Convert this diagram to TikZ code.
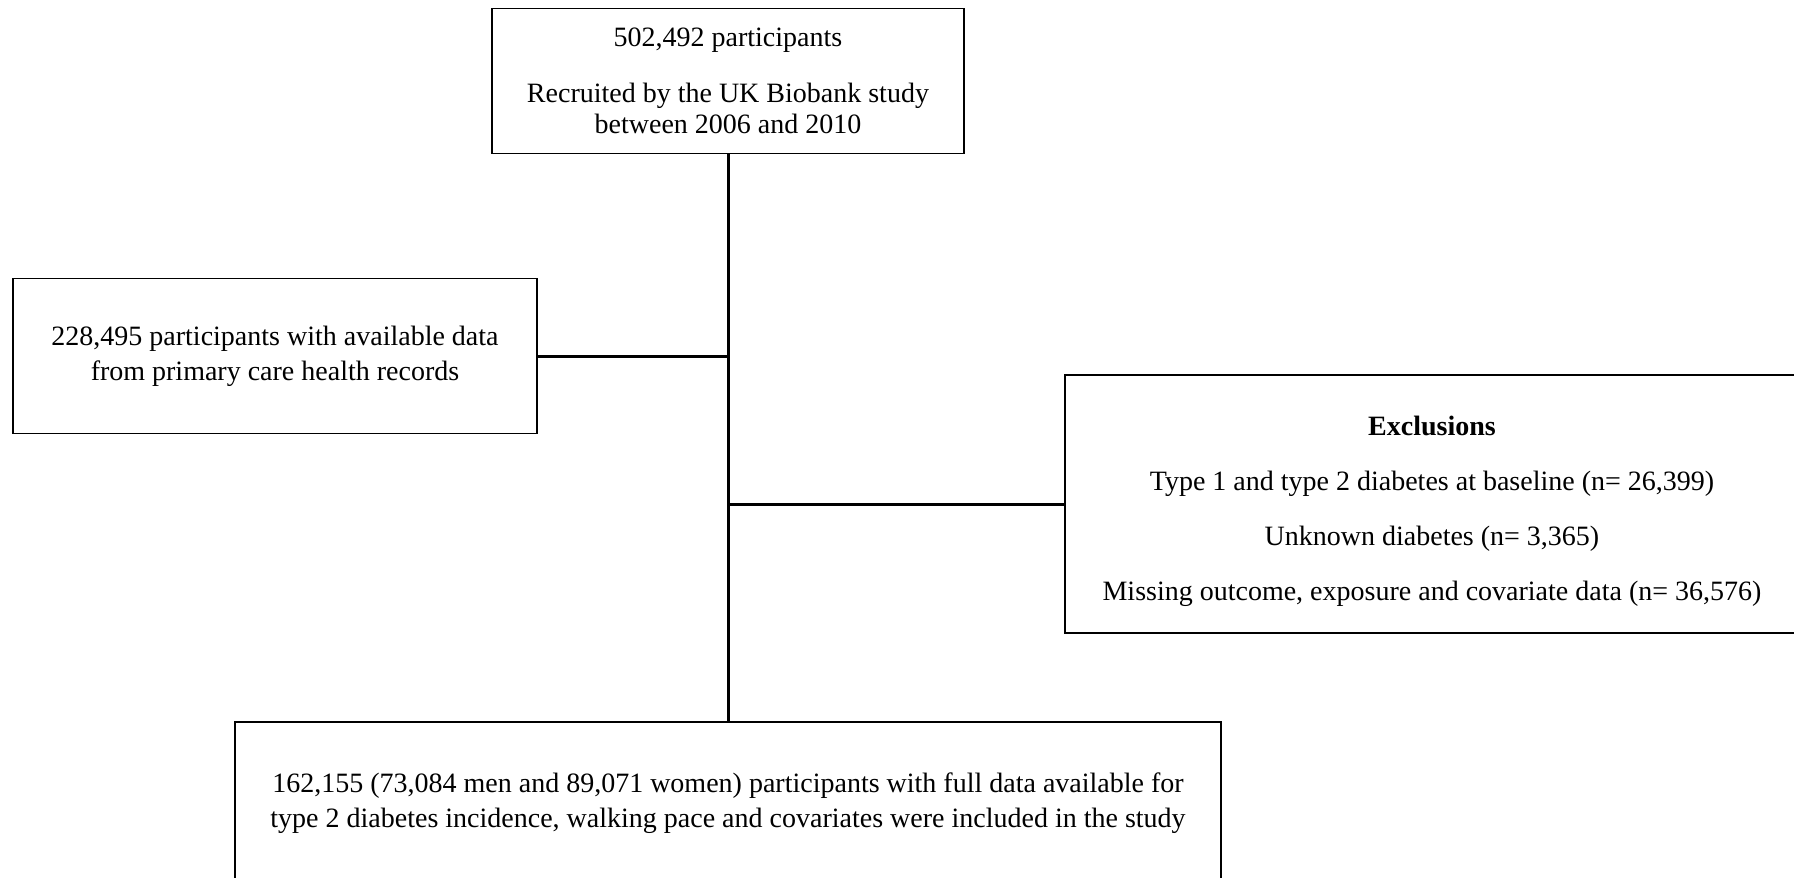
\documentclass[tikz,border=0pt]{standalone}
\usepackage{fontspec}
\setmainfont{Liberation Serif}
\begin{document}
\begin{tikzpicture}[x=1pt,y=-1pt,
  box/.style={draw=black,line width=1.5pt,fill=white,inner sep=0pt,align=center,
    font=\fontsize{28}{31}\selectfont},
  conn/.style={draw=black,line width=3pt}]
\useasboundingbox (0,0) rectangle (1794,878);
\node[box,minimum width=472pt,minimum height=145pt] (top) at (728,81)
  {502,492 participants\\[25pt]Recruited by the UK Biobank study\\between 2006 and 2010};
\node[box,minimum width=524pt,minimum height=155pt] (left) at (275,356)
  {228,495 participants with available data\\[4pt]from primary care health records};
\node[box,minimum width=734pt,minimum height=258pt] (right) at (1432,504)
  {\rule{0pt}{10pt}\\[-6pt]\textbf{Exclusions}\\[24pt]Type 1 and type 2 diabetes at baseline (n= 26,399)\\[24pt]Unknown diabetes (n= 3,365)\\[24pt]Missing outcome, exposure and covariate data (n= 36,576)};
\node[box,minimum width=986pt,minimum height=162pt] (bottom) at (728,803)
  {162,155 (73,084 men and 89,071 women) participants with full data available for\\[4pt]type 2 diabetes incidence, walking pace and covariates were included in the study};
\draw[conn] (top.south) -- (bottom.north);
\draw[conn] (left.east) -- (left.east -| top.south);
\draw[conn] (right.west) -- (right.west -| top.south);
\end{tikzpicture}
\end{document}
